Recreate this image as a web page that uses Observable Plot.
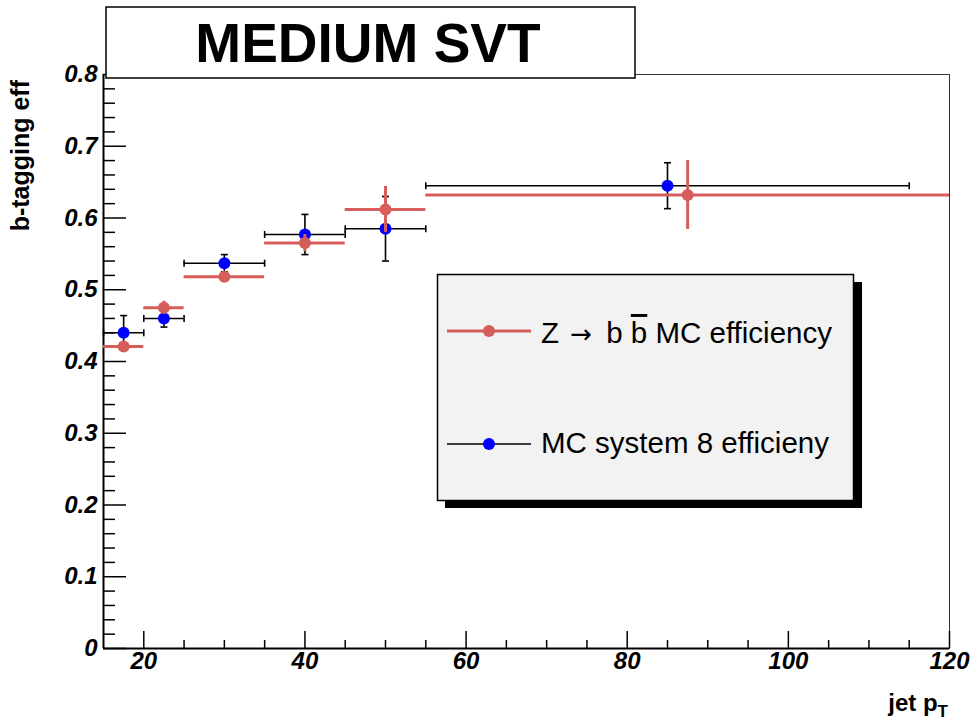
<!DOCTYPE html>
<html>
<head>
<meta charset="utf-8">
<script src="https://cdn.jsdelivr.net/npm/d3@7"></script>
<script src="https://cdn.jsdelivr.net/npm/@observablehq/plot@0.6"></script>
<style>
  html, body { margin: 0; padding: 0; background: #ffffff; }
  #chart { width: 977px; height: 721px; }
</style>
</head>
<body>
<div id="chart"></div>
<script>
// ---- data ----
const binLo = [15, 20, 25, 35, 45, 55];
const redX = [17.5, 22.5, 30, 40, 50, 87.5];
const redXHi = [20, 25, 35, 45, 55, 120];
const redY = [0.421, 0.475, 0.518, 0.565, 0.612, 0.632];
const redErr = [0.005, 0.009, 0.007, 0.012, 0.032, 0.048];
const blueX = [17.5, 22.5, 30, 40, 50, 85];
const blueXHi = [20, 25, 35, 45, 55, 115];
const blueY = [0.440, 0.460, 0.537, 0.577, 0.585, 0.645];
const blueErr = [0.024, 0.012, 0.012, 0.028, 0.045, 0.032];
const yMajor = [0, 0.1, 0.2, 0.3, 0.4, 0.5, 0.6, 0.7, 0.8];
const yMinor = [0.02, 0.04, 0.06, 0.08, 0.12, 0.14, 0.16, 0.18, 0.22, 0.24, 0.26, 0.28,
  0.32, 0.34, 0.36, 0.38, 0.42, 0.44, 0.46, 0.48, 0.52, 0.54, 0.56, 0.58,
  0.62, 0.64, 0.66, 0.68, 0.72, 0.74, 0.76, 0.78];
const xMajor = [20, 40, 60, 80, 100, 120];
const xMinor = [25, 30, 35, 45, 50, 55, 65, 70, 75, 85, 90, 95, 105, 110, 115];
const seriesNames = ["Z ", "\u2192", " b ", "b", " MC efficiency", "MC system 8 efficieny"];
const titleText = "MEDIUM SVT";
const yTitle = "b-tagging eff";

const red = redX.map((x, i) => ({x, lo: binLo[i], hi: redXHi[i], y: redY[i], e: redErr[i]}));
const blue = blueX.map((x, i) => ({x, lo: binLo[i], hi: blueXHi[i], y: blueY[i], e: blueErr[i]}));

const RED = "#d55e5a";
const W = 977, H = 721, ML = 103, MR = 28, MT = 74, MB = 73;
const PW = W - ML - MR, PH = H - MT - MB;

const capV = {draw(ctx, size) { const h = Math.sqrt(size / Math.PI); ctx.moveTo(0, -h); ctx.lineTo(0, h); }};
const capH = {draw(ctx, size) { const h = Math.sqrt(size / Math.PI); ctx.moveTo(-h, 0); ctx.lineTo(h, 0); }};

const FONT = "Liberation Sans, Arial, sans-serif";
const tickFont = {fontFamily: FONT, fontWeight: "bold", fontStyle: "italic", fontSize: 24};

const svg = Plot.plot({
  width: W, height: H,
  marginLeft: ML, marginRight: MR, marginTop: MT, marginBottom: MB,
  style: {background: "#ffffff", fontFamily: FONT},
  x: {domain: [15, 120], axis: null},
  y: {domain: [0, 0.8], axis: null},
  marks: [
    Plot.frame({stroke: "#333", strokeWidth: 1}),
    // ticks
    Plot.tickY(yMajor, {y: d => d, stroke: "black", strokeWidth: 1.5, insetRight: PW - 23}),
    Plot.tickY(yMinor, {y: d => d, stroke: "black", strokeWidth: 1.5, insetRight: PW - 12}),
    Plot.tickX(xMajor, {x: d => d, stroke: "black", strokeWidth: 1.5, insetTop: PH - 17}),
    Plot.tickX(xMinor, {x: d => d, stroke: "black", strokeWidth: 1.5, insetTop: PH - 8}),
    Plot.ruleX([15], {stroke: "black", strokeWidth: 2}),
    Plot.ruleY([0], {stroke: "black", strokeWidth: 2}),
    // tick labels
    Plot.text(yMajor, {y: d => d, frameAnchor: "left", dx: -6, textAnchor: "end",
      text: d => d === 0 ? "0" : d.toFixed(1), ...tickFont}),
    Plot.text(xMajor, {x: d => d, frameAnchor: "bottom", dy: 20, text: d => String(d), ...tickFont}),
    // blue series (black error bars)
    Plot.ruleY(blue, {y: "y", x1: "lo", x2: "hi", stroke: "black", strokeWidth: 1.6}),
    Plot.ruleX(blue, {x: "x", y1: d => d.y - d.e, y2: d => d.y + d.e, stroke: "black", strokeWidth: 1.6}),
    Plot.dot(blue, {x: "lo", y: "y", symbol: capV, r: 3.5, fill: "none", stroke: "black", strokeWidth: 1.6}),
    Plot.dot(blue, {x: "hi", y: "y", symbol: capV, r: 3.5, fill: "none", stroke: "black", strokeWidth: 1.6}),
    Plot.dot(blue, {x: "x", y: d => d.y - d.e, symbol: capH, r: 3.5, fill: "none", stroke: "black", strokeWidth: 1.6}),
    Plot.dot(blue, {x: "x", y: d => d.y + d.e, symbol: capH, r: 3.5, fill: "none", stroke: "black", strokeWidth: 1.6}),
    Plot.dot(blue, {x: "x", y: "y", r: 6, fill: "#0000ff", stroke: "none"}),
    // red series
    Plot.ruleY(red, {y: "y", x1: "lo", x2: "hi", stroke: RED, strokeWidth: 3}),
    Plot.ruleX(red, {x: "x", y1: d => d.y - d.e, y2: d => d.y + d.e, stroke: RED, strokeWidth: 3}),
    Plot.dot(red, {x: "x", y: "y", r: 6, fill: RED, stroke: "none"})
  ]
});

const s = d3.select(svg);
// title box
const tg = s.append("g");
tg.append("rect").attr("x", 106).attr("y", 7).attr("width", 529).attr("height", 71)
  .attr("fill", "#ffffff").attr("stroke", "black").attr("stroke-width", 1.5);
tg.append("text").attr("x", 368).attr("y", 62).attr("text-anchor", "middle")
  .attr("font-family", FONT).attr("font-weight", "bold")
  .attr("font-size", 55).attr("fill", "black").text(titleText);

// legend
const lg = s.append("g").attr("font-family", FONT).attr("text-anchor", "start");
lg.append("rect").attr("x", 445).attr("y", 282).attr("width", 417).attr("height", 226).attr("fill", "black");
lg.append("rect").attr("x", 437.5).attr("y", 274.5).attr("width", 416).attr("height", 226)
  .attr("fill", "#f2f2f2").attr("stroke", "black").attr("stroke-width", 1.5);
lg.append("line").attr("x1", 447).attr("x2", 531).attr("y1", 331).attr("y2", 331).attr("stroke", RED).attr("stroke-width", 3);
lg.append("circle").attr("cx", 489).attr("cy", 331).attr("r", 6).attr("fill", RED);
const t1 = lg.append("text").attr("x", 541).attr("y", 343).attr("font-size", 29.5).attr("fill", "black").attr("text-anchor", "start");
t1.append("tspan").text(seriesNames[0]);
t1.append("tspan").attr("dx", 3).attr("font-family", "DejaVu Sans, sans-serif").attr("font-size", 26).text(seriesNames[1]);
t1.append("tspan").attr("dx", 6).text(seriesNames[2]);
t1.append("tspan").attr("text-decoration", "overline").style("text-decoration", "overline").text(seriesNames[3]);
t1.append("tspan").text(seriesNames[4]);
lg.append("line").attr("x1", 447).attr("x2", 531).attr("y1", 444).attr("y2", 444).attr("stroke", "black").attr("stroke-width", 1.5);
lg.append("circle").attr("cx", 489).attr("cy", 444).attr("r", 6).attr("fill", "#0000ff");
lg.append("text").attr("x", 541).attr("y", 453).attr("font-size", 29.5).attr("fill", "black").attr("text-anchor", "start").text(seriesNames[5]);

// axis titles
s.append("text").attr("transform", "translate(29,80) rotate(-90)").attr("text-anchor", "end")
  .attr("font-family", FONT).attr("font-weight", "bold")
  .attr("font-size", 25).attr("fill", "black").text(yTitle);
const xt = s.append("text").attr("x", 948).attr("y", 711).attr("text-anchor", "end")
  .attr("font-family", FONT).attr("font-weight", "bold")
  .attr("font-size", 24).attr("fill", "black");
xt.append("tspan").text("jet p");
xt.append("tspan").attr("font-size", 17).attr("dy", 6).text("T");

document.getElementById("chart").appendChild(svg);
</script>
</body>
</html>
